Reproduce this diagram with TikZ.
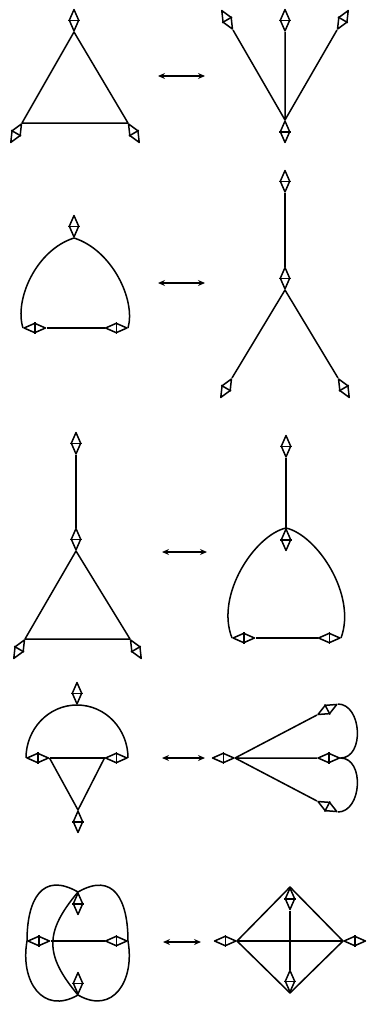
\documentclass[tikz,border=0pt]{standalone}
\usetikzlibrary{shapes.geometric,arrows.meta}
% diamond insertion: name, tip point, direction of its body
\newcommand{\ins}[3]{%
  \node[ins, rotate=#3] (#1) at (#2) {};
  \draw (#1.north) -- (#1.south);}
\begin{document}
\begin{tikzpicture}[x=1pt, y=-1pt, line width=1.5pt, line join=round,
  ins/.style={draw, diamond, anchor=west, minimum width=22pt, minimum height=10pt, inner sep=0pt},
  xchg/.style={{Stealth[length=7pt,width=6pt]}-{Stealth[length=7pt,width=6pt]}}]
  \useasboundingbox (0,0) rectangle (369,1009);

  % row 1: triangle <-> star
  \ins{a1}{74,32}{90}
  \ins{a2}{22,123}{-120}
  \ins{a3}{128,123}{-60}
  \draw (a1.west) -- (a2.west) -- (a3.west) -- cycle;
  \coordinate (l1) at (158,76);
  \coordinate (r1) at (205,76);
  \draw[xchg] (l1) -- (r1);
  \ins{b0}{285,120}{-90}
  \ins{b1}{233,30}{120}
  \ins{b2}{285,32}{90}
  \ins{b3}{337,30}{60}
  \draw (b1.west) -- (b0.west) -- (b3.west) (b2.west) -- (b0.west);

  % row 2: loop <-> fork
  \ins{c1}{74,238}{90}
  \ins{c2}{23,328}{0}
  \ins{c3}{128,328}{180}
  \draw (c2.east) -- (c3.east);
  \draw (c1.west) .. controls (36,250) and (14,300) .. (c2.west);
  \draw (c1.west) .. controls (112,250) and (136,300) .. (c3.west);
  \coordinate (l2) at (158,283);
  \coordinate (r2) at (205,283);
  \draw[xchg] (l2) -- (r2);
  \ins{d1}{285,193}{90}
  \ins{d2}{285,290}{90}
  \ins{d3}{232,378}{-120}
  \ins{d4}{338,378}{-60}
  \draw (d1.west) -- (d2.east);
  \draw (d3.west) -- (d2.west) -- (d4.west);

  % row 3: stalk on triangle <-> stalk on loop
  \ins{e1}{76,455}{90}
  \ins{e2}{76,551}{90}
  \ins{e3}{25,639}{-120}
  \ins{e4}{130,639}{-60}
  \draw (e1.west) -- (e2.east);
  \draw (e2.west) -- (e3.west) -- (e4.west) -- cycle;
  \coordinate (l3) at (162,552);
  \coordinate (r3) at (207,552);
  \draw[xchg] (l3) -- (r3);
  \ins{f1}{286,458}{90}
  \ins{f2}{286,528}{-90}
  \ins{f3}{232,638}{0}
  \ins{f4}{341,638}{180}
  \draw (f1.west) -- (f2.west);
  \draw (f3.east) -- (f4.east);
  \draw (f2.west) .. controls (255,535) and (215,595) .. (f3.west);
  \draw (f2.west) .. controls (317,535) and (357,595) .. (f4.west);

  % row 4: dome <-> fan
  \ins{g1}{77,705}{90}
  \ins{g2}{26,758}{0}
  \ins{g3}{128,758}{180}
  \ins{g4}{78,810}{-90}
  \draw (g2.west) to[out=90,in=180] (g1.west) to[out=0,in=90] (g3.west);
  \draw (g2.east) -- (g3.east);
  \draw (g2.east) -- (g4.west) -- (g3.east);
  \coordinate (l4) at (162,758);
  \coordinate (r4) at (205,758);
  \draw[xchg] (l4) -- (r4);
  \ins{h0}{235,758}{180}
  \ins{h1}{317,715}{28}
  \ins{h2}{317,758}{0}
  \ins{h3}{317,801}{-28}
  \draw (h0.west) -- (h1.west) (h0.west) -- (h2.west) (h0.west) -- (h3.west);
  \draw (h1.east) to[out=0,in=0,looseness=1.15] (h2.east)
    to[out=0,in=0,looseness=1.15] (h3.east);

  % row 5: lobes <-> square
  \ins{i1}{78,892}{-90}
  \ins{i2}{78,995}{90}
  \ins{i3}{27,941}{0}
  \ins{i4}{128,941}{180}
  \draw (i3.east) -- (i4.east);
  \draw (i1.west) to[out=150,in=90,looseness=1.5] (i3.west)
    to[out=-100,in=-150,looseness=1.4] (i2.west);
  \draw (i1.west) to[out=30,in=90,looseness=1.5] (i4.west)
    to[out=-80,in=-30,looseness=1.4] (i2.west);
  \draw (i1.west) to[out=-130,in=130,looseness=1.3] (i2.west);
  \coordinate (l5) at (163,942);
  \coordinate (r5) at (201,942);
  \draw[xchg] (l5) -- (r5);
  \ins{j1}{290,887}{-90}
  \ins{j2}{290,993}{90}
  \ins{j3}{237,941}{180}
  \ins{j4}{343,941}{0}
  \draw (j1.west) -- (j4.west) -- (j2.west) -- (j3.west) -- cycle;
  \draw (j3.west) -- (j4.west);
  \draw (j1.east) -- (j2.east);
\end{tikzpicture}
\end{document}
